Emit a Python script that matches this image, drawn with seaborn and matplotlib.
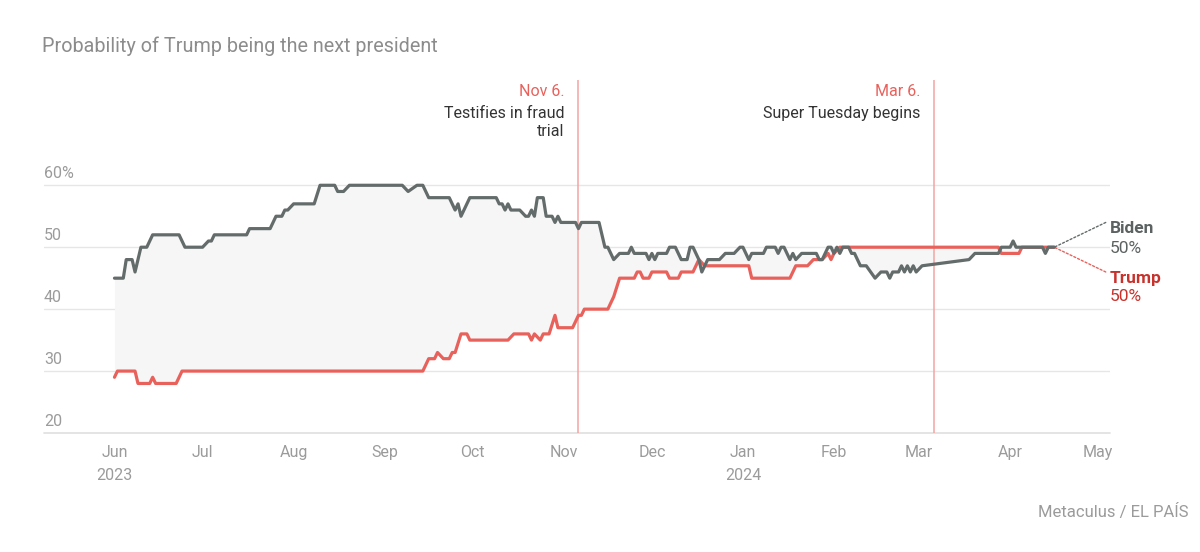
import matplotlib
matplotlib.use('Agg')
import matplotlib.pyplot as plt
import matplotlib.dates as mdates
import seaborn as sns
import numpy as np
import pandas as pd

# Biden series (one point per change)
biden_dates = [
    '2023-06-01', '2023-06-04', '2023-06-05', '2023-06-07', '2023-06-08', '2023-06-10', '2023-06-12',
    '2023-06-14', '2023-06-23', '2023-06-25', '2023-07-01', '2023-07-03', '2023-07-04', '2023-07-05',
    '2023-07-16', '2023-07-17', '2023-07-24', '2023-07-26', '2023-07-28', '2023-07-29', '2023-07-30',
    '2023-08-01', '2023-08-08', '2023-08-10', '2023-08-15', '2023-08-16', '2023-08-18', '2023-08-20',
    '2023-09-07', '2023-09-09', '2023-09-12', '2023-09-14', '2023-09-16', '2023-09-23', '2023-09-24',
    '2023-09-25', '2023-09-26', '2023-09-27', '2023-09-30', '2023-10-09', '2023-10-10', '2023-10-11',
    '2023-10-12', '2023-10-13', '2023-10-14', '2023-10-17', '2023-10-19', '2023-10-20', '2023-10-21',
    '2023-10-22', '2023-10-23', '2023-10-25', '2023-10-26', '2023-10-28', '2023-10-29', '2023-10-30',
    '2023-10-31', '2023-11-05', '2023-11-06', '2023-11-07', '2023-11-13', '2023-11-15', '2023-11-16',
    '2023-11-18', '2023-11-20', '2023-11-23', '2023-11-24', '2023-11-25', '2023-11-29', '2023-11-30',
    '2023-12-01', '2023-12-02', '2023-12-03', '2023-12-06', '2023-12-07', '2023-12-09', '2023-12-11',
    '2023-12-13', '2023-12-14', '2023-12-15', '2023-12-17', '2023-12-18', '2023-12-20', '2023-12-24',
    '2023-12-26', '2023-12-29', '2023-12-31', '2024-01-01', '2024-01-03', '2024-01-04', '2024-01-08',
    '2024-01-09', '2024-01-12', '2024-01-13', '2024-01-14', '2024-01-15', '2024-01-17', '2024-01-18',
    '2024-01-19', '2024-01-21', '2024-01-26', '2024-01-27', '2024-01-28', '2024-01-30', '2024-01-31',
    '2024-02-01', '2024-02-02', '2024-02-03', '2024-02-04', '2024-02-06', '2024-02-07', '2024-02-08',
    '2024-02-10', '2024-02-12', '2024-02-15', '2024-02-17', '2024-02-19', '2024-02-20', '2024-02-21',
    '2024-02-23', '2024-02-24', '2024-02-25', '2024-02-26', '2024-02-27', '2024-02-28', '2024-02-29',
    '2024-03-02', '2024-03-18', '2024-03-20', '2024-03-28', '2024-03-29', '2024-04-01', '2024-04-02',
    '2024-04-03', '2024-04-12', '2024-04-13', '2024-04-14', '2024-04-16',
]
biden_vals = [
    45, 45, 48, 48, 46, 50, 50,
    52, 52, 50, 50, 51, 51, 52,
    52, 53, 53, 55, 55, 56, 56,
    57, 57, 60, 60, 59, 59, 60,
    60, 59, 60, 60, 58, 58, 57,
    56, 57, 55, 58, 58, 57, 57,
    56, 57, 56, 56, 55, 55, 56,
    55, 58, 58, 55, 55, 54, 55,
    54, 54, 53, 54, 54, 50, 50,
    48, 49, 49, 50, 49, 49, 48,
    49, 48, 49, 49, 50, 50, 48,
    48, 50, 50, 48, 46, 48, 48,
    49, 49, 50, 50, 48, 49, 49,
    50, 50, 49, 50, 50, 48, 49,
    48, 49, 49, 48, 48, 50, 50,
    49, 50, 49, 50, 50, 49, 49,
    47, 47, 45, 46, 46, 45, 46,
    46, 47, 46, 47, 46, 47, 46,
    47, 48, 49, 49, 50, 50, 51,
    50, 50, 49, 50, 50,
]

# Trump series
trump_dates = [
    '2023-06-01', '2023-06-02', '2023-06-08', '2023-06-09', '2023-06-13', '2023-06-14', '2023-06-15',
    '2023-06-22', '2023-06-24', '2023-09-14', '2023-09-16', '2023-09-18', '2023-09-19', '2023-09-21',
    '2023-09-23', '2023-09-24', '2023-09-25', '2023-09-27', '2023-09-29', '2023-09-30', '2023-10-13',
    '2023-10-15', '2023-10-20', '2023-10-21', '2023-10-22', '2023-10-24', '2023-10-25', '2023-10-27',
    '2023-10-29', '2023-10-30', '2023-11-04', '2023-11-06', '2023-11-07', '2023-11-08', '2023-11-16',
    '2023-11-18', '2023-11-20', '2023-11-25', '2023-11-26', '2023-11-27', '2023-11-28', '2023-11-30',
    '2023-12-01', '2023-12-06', '2023-12-07', '2023-12-10', '2023-12-11', '2023-12-15', '2023-12-17',
    '2023-12-19', '2024-01-03', '2024-01-04', '2024-01-17', '2024-01-19', '2024-01-23', '2024-01-25',
    '2024-01-28', '2024-01-30', '2024-01-31', '2024-02-01', '2024-02-03', '2024-03-28', '2024-03-29',
    '2024-04-04', '2024-04-05', '2024-04-16',
]
trump_vals = [
    29, 30, 30, 28, 28, 29, 28,
    28, 30, 30, 32, 32, 33, 32,
    32, 33, 33, 36, 36, 35, 35,
    36, 36, 35, 36, 35, 36, 36,
    39, 37, 37, 39, 39, 40, 40,
    42, 45, 45, 46, 46, 45, 45,
    46, 46, 45, 45, 46, 46, 48,
    47, 47, 45, 45, 47, 47, 48,
    48, 49, 48, 49, 50, 50, 49,
    49, 50, 50,
]

month_ticks = ['2023-06-01', '2023-07-01', '2023-08-01', '2023-09-01', '2023-10-01', '2023-11-01',
               '2023-12-01', '2024-01-01', '2024-02-01', '2024-03-01', '2024-04-01', '2024-05-01']
month_labels = ['Jun\n2023', 'Jul', 'Aug', 'Sep', 'Oct', 'Nov',
                'Dec', 'Jan\n2024', 'Feb', 'Mar', 'Apr', 'May']
y_ticks = [20, 30, 40, 50, 60]
y_labels = ['20', '30', '40', '50', '60%']

event_dates = ['2023-11-06', '2024-03-06']
event_heads = ['Nov 6.', 'Mar 6.']
event_texts = ['Testifies in fraud\ntrial', 'Super Tuesday begins']

GRAY = '#646b6b'
RED = '#e9615b'
LIGHT = '#9b9b9b'

sns.set_style('white')
plt.rcParams['font.family'] = ['Roboto', 'DejaVu Sans']

biden = pd.DataFrame({'date': pd.to_datetime(biden_dates), 'value': biden_vals})
trump = pd.DataFrame({'date': pd.to_datetime(trump_dates), 'value': trump_vals})

fig = plt.figure(figsize=(12, 5.52), dpi=100)
ax = fig.add_axes([44 / 1200, 1 - 433 / 552, 1066 / 1200, (433 - 80) / 552])

# shaded band between the two series
grid = np.union1d(mdates.date2num(biden['date']), mdates.date2num(trump['date']))
b_interp = np.interp(grid, mdates.date2num(biden['date']), biden['value'])
t_interp = np.interp(grid, mdates.date2num(trump['date']), trump['value'])
ax.fill_between(mdates.num2date(grid), b_interp, t_interp, color='#f6f6f7', lw=0, zorder=1)

# event markers
for d in event_dates:
    ax.axvline(pd.Timestamp(d), color='#f2a6a3', lw=1.1, zorder=2)

sns.lineplot(data=trump, x='date', y='value', color=RED, lw=2.3, ax=ax, zorder=3)
sns.lineplot(data=biden, x='date', y='value', color=GRAY, lw=2.3, ax=ax, zorder=4)

ax.set_xlim(pd.Timestamp('2023-05-08'), pd.Timestamp('2024-05-05'))
ax.set_ylim(20, 77)
ax.set_xlabel('')
ax.set_ylabel('')

ax.set_yticks(y_ticks)
ax.set_yticklabels([])
ax.yaxis.grid(True, color='#e6e6e6', lw=1)
ax.xaxis.grid(False)
ax.tick_params(axis='y', length=0)
ax.axhline(20, color='#e2e2e2', lw=1.3, clip_on=False, zorder=0)
for v, lab in zip(y_ticks, y_labels):
    ax.annotate(lab, xy=(0, v), xycoords=('axes fraction', 'data'), xytext=(0, 8.5),
                textcoords='offset points', ha='left', va='center', fontsize=11.5, color=LIGHT)

ax.set_xticks(pd.to_datetime(month_ticks))
ax.set_xticklabels(month_labels, fontsize=11.5, color=LIGHT, linespacing=1.65)
ax.tick_params(axis='x', length=0, pad=8.5)

for s in ax.spines.values():
    s.set_visible(False)

# event annotations
for d, head, txt in zip(event_dates, event_heads, event_texts):
    ax.annotate(head, xy=(pd.Timestamp(d), 1), xycoords=('data', 'axes fraction'), xytext=(-10, -8),
                textcoords='offset points', ha='right', va='center', fontsize=11.5, color=RED)
    ax.annotate(txt, xy=(pd.Timestamp(d), 1), xycoords=('data', 'axes fraction'), xytext=(-10, -19),
                textcoords='offset points', ha='right', va='top', fontsize=11.5, color='#333333',
                linespacing=1.22)

# end labels with dotted leaders
last_date = biden['date'].iloc[-1]
last_b = biden['value'].iloc[-1]
last_t = trump['value'].iloc[-1]
ax.annotate('', xy=(last_date, last_b), xycoords='data', xytext=(0.996, last_b + 4),
            textcoords=('axes fraction', 'data'),
            arrowprops=dict(arrowstyle='-', color=GRAY, lw=1, ls=(0, (1.5, 1.5)), shrinkA=0, shrinkB=0))
ax.annotate('', xy=(last_date, last_t), xycoords='data', xytext=(0.996, last_t - 4),
            textcoords=('axes fraction', 'data'),
            arrowprops=dict(arrowstyle='-', color=RED, lw=1, ls=(0, (1.5, 1.5)), shrinkA=0, shrinkB=0))

ax.annotate('Biden', xy=(1, last_b + 3.0), xycoords=('axes fraction', 'data'), ha='left', va='center',
            fontsize=12.5, fontweight='bold', color='#5c6262', annotation_clip=False)
ax.annotate(f'{last_b}%', xy=(1, last_b - 0.2), xycoords=('axes fraction', 'data'), ha='left', va='center',
            fontsize=12.5, color='#5c6262', annotation_clip=False)
ax.annotate('Trump', xy=(1, last_t - 5), xycoords=('axes fraction', 'data'), ha='left', va='center',
            fontsize=12.5, fontweight='bold', color='#c8322d', annotation_clip=False)
ax.annotate(f'{last_t}%', xy=(1, last_t - 8.0), xycoords=('axes fraction', 'data'), ha='left', va='center',
            fontsize=12.5, color='#c8322d', annotation_clip=False)

fig.text(42 / 1200, 1 - 46 / 552, 'Probability of Trump being the next president',
         ha='left', va='center', fontsize=14.2, color='#8c8c8c')
fig.text(1188 / 1200, 1 - 512 / 552, 'Metaculus / EL PAÍS', ha='right', va='center',
         fontsize=12, color=LIGHT)

fig.savefig('out.png', dpi=100)
